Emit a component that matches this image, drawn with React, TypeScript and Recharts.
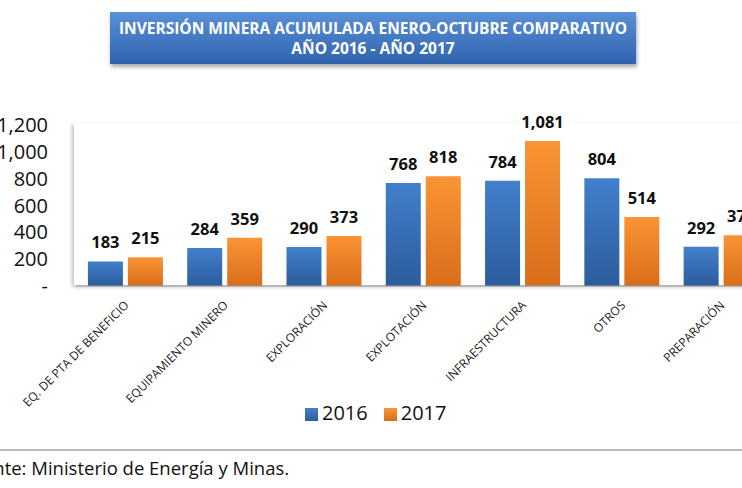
import { Bar, BarChart, CartesianGrid, LabelList, Legend, XAxis, YAxis } from "recharts";

const categories = [
  "EQ. DE PTA DE BENEFICIO",
  "EQUIPAMIENTO MINERO",
  "EXPLORACIÓN",
  "EXPLOTACIÓN",
  "INFRAESTRUCTURA",
  "OTROS",
  "PREPARACIÓN",
];
const values2016 = [183, 284, 290, 768, 784, 804, 292];
const values2017 = [215, 359, 373, 818, 1081, 514, 378];
const yTicks = [0, 200, 400, 600, 800, 1000, 1200];

const data = categories.map((name, i) => ({
  name,
  "2016": values2016[i],
  "2017": values2017[i],
}));

const FONT = "'Open Sans', 'Noto Sans', sans-serif";
const fmtNum = (v: number) => (v === 0 ? "-" : v.toLocaleString("en-US"));

function CatTick({ x, y, payload }: any) {
  return (
    <g transform={`translate(${x + 4},${y + 12})`}>
      <text
        x={0}
        y={0}
        textAnchor="end"
        transform="rotate(-45)"
        fontSize={12}
        fontFamily={FONT}
        fill="#222"
      >
        {payload.value}
      </text>
    </g>
  );
}

export default function App() {
  return (
    <div
      style={{
        position: "fixed",
        left: 0,
        top: 0,
        width: 742,
        height: 488,
        overflow: "hidden",
        background: "#fff",
        fontFamily: FONT,
      }}
    >
      {/* plot panel with shadow */}
      <div
        style={{
          position: "absolute",
          left: 74,
          top: 123,
          width: 800,
          height: 162,
          background: "#fff",
          boxShadow: "-2px 2px 4px rgba(0,0,0,0.25)",
        }}
      />
      <div style={{ position: "absolute", left: -10, top: 0 }}>
        <BarChart
          width={880}
          height={440}
          data={data}
          margin={{ top: 125, right: 0, left: 0, bottom: 14 }}
          barCategoryGap="12%"
          barGap={5}
        >
          <defs>
            <linearGradient id="g16" x1="0" y1="0" x2="0" y2="1">
              <stop offset="0%" stopColor="#4280cc" />
              <stop offset="100%" stopColor="#2c5c9c" />
            </linearGradient>
            <linearGradient id="g17" x1="0" y1="0" x2="0" y2="1">
              <stop offset="0%" stopColor="#fa9434" />
              <stop offset="100%" stopColor="#d86d1a" />
            </linearGradient>
          </defs>
          <CartesianGrid horizontal={false} vertical={false} />
          <XAxis
            dataKey="name"
            interval={0}
            height={113}
            padding={{ left: 0, right: 99 }}
            tickLine={false}
            axisLine={{ stroke: "#999" }}
            tick={<CatTick />}
          />
          <YAxis
            width={86}
            domain={[0, 1200]}
            ticks={yTicks}
            interval={0}
            allowDataOverflow
            tickFormatter={fmtNum}
            axisLine={false}
            tickLine={false}
            tickSize={0}
            tickMargin={28}
            tick={{ fontSize: 20, fill: "#111", fontFamily: FONT }}
          />
          <Legend
            align="left"
            verticalAlign="bottom"
            iconType="square"
            iconSize={13}
            wrapperStyle={{ left: 315, fontSize: 20, fontFamily: FONT }}
            formatter={(v: string) => <span style={{ color: "#111", marginRight: 6 }}>{v}</span>}
          />
          <Bar dataKey="2016" fill="url(#g16)" legendType="square" isAnimationActive={false}>
            <LabelList
              dataKey="2016"
              position="top"
              offset={13}
              formatter={fmtNum}
              style={{ fontSize: 16.5, fontWeight: 700, fill: "#111", fontFamily: FONT }}
            />
          </Bar>
          <Bar dataKey="2017" fill="url(#g17)" legendType="square" isAnimationActive={false}>
            <LabelList
              dataKey="2017"
              position="top"
              offset={13}
              formatter={fmtNum}
              style={{ fontSize: 16.5, fontWeight: 700, fill: "#111", fontFamily: FONT }}
            />
          </Bar>
        </BarChart>
      </div>
      {/* title box */}
      <div
        style={{
          position: "absolute",
          left: 110,
          top: 12,
          width: 526,
          height: 52,
          background: "linear-gradient(#5a90d8, #2f63ae)",
          boxShadow: "1px 3px 4px rgba(0,0,0,0.35)",
          color: "#fff",
          fontWeight: 700,
          fontSize: 15.5,
          lineHeight: "20px",
          textAlign: "center",
          paddingTop: 6,
          boxSizing: "border-box",
          whiteSpace: "nowrap",
        }}
      >
        INVERSIÓN MINERA ACUMULADA ENERO-OCTUBRE COMPARATIVO
        <br />
        AÑO 2016 - AÑO 2017
      </div>
      {/* frame bottom line */}
      <div style={{ position: "absolute", left: 0, top: 449, width: 742, height: 2, background: "#bbb" }} />
      <div
        style={{
          position: "absolute",
          left: -38,
          top: 455,
          fontSize: 18.5,
          color: "#111",
          whiteSpace: "nowrap",
        }}
      >
        Fuente: Ministerio de Energía y Minas.
      </div>
    </div>
  );
}
